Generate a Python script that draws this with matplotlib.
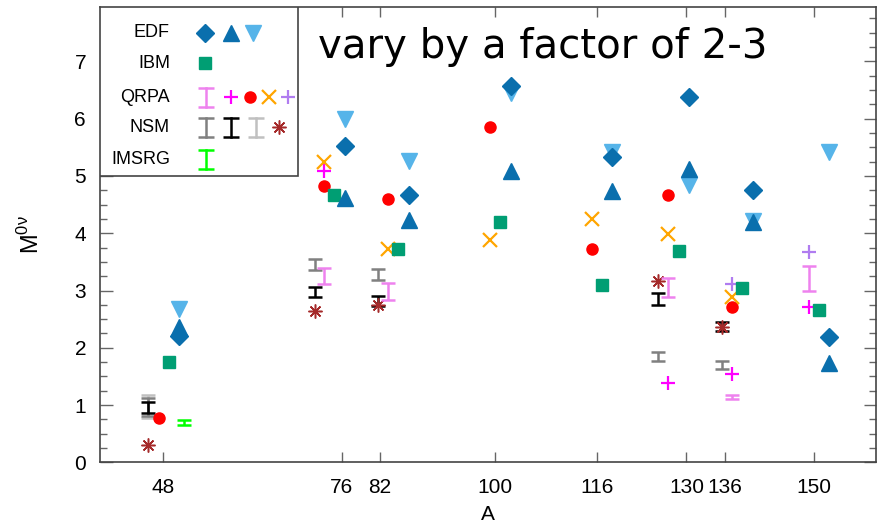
import numpy as np
import matplotlib
matplotlib.use("Agg")
import matplotlib.pyplot as plt
from matplotlib.patches import Rectangle

plt.rcParams['font.family'] = ['Liberation Sans', 'DejaVu Sans']

# x positions (in A units) of the method columns
edf_A = [50.5, 76.48, 86.51, 102.45, 118.34, 130.4, 140.4, 152.4]
edf_diamond = [2.21, 5.53, 4.66, 6.57, 5.33, 6.38, 4.76, 2.19]
edf_up = [2.36, 4.61, 4.23, 5.09, 4.73, 5.13, 4.20, 1.74]
edf_down = [2.67, 5.99, 5.26, 6.44, 5.42, 4.84, 4.22, 5.41]

ibm_A = [48.89, 74.8, 84.83, 100.77, 116.77, 128.8, 138.75, 150.8]
ibm = [1.75, 4.66, 3.72, 4.20, 3.09, 3.69, 3.04, 2.66]

qrpa_bar_A = [73.24, 83.17, 127.15, 137.2, 149.2]
qrpa_bar = [3.25, 2.98, 3.05, 1.14, 3.21]
qrpa_bar_err = [0.145, 0.145, 0.165, 0.04, 0.21]
qrpa_plus_A = [73.24, 127.15, 137.2, 149.2]
qrpa_plus = [5.08, 1.38, 1.55, 2.71]
qrpa_dot_A = [47.3, 73.24, 83.17, 99.2, 115.2, 127.15, 137.2]
qrpa_dot = [0.77, 4.83, 4.60, 5.85, 3.73, 4.66, 2.71]
qrpa_x_A = [73.24, 83.17, 99.2, 115.2, 127.15, 137.2]
qrpa_x = [5.25, 3.72, 3.89, 4.25, 3.99, 2.89]
qrpa_plus2_A = [137.2, 149.2]
qrpa_plus2 = [3.11, 3.68]

nsm_A = [45.65, 71.78, 81.66, 125.6, 135.6]
nsm_gray = [0.97, 3.45, 3.28, 1.85, 1.70]
nsm_gray_err = [0.155, 0.10, 0.10, 0.075, 0.07]
nsm_black = [0.96, 2.97, 2.81, 2.85, 2.37]
nsm_black_err = [0.10, 0.087, 0.087, 0.107, 0.08]
nsm_light_A = [45.65]
nsm_light = [0.97]
nsm_light_err = [0.20]
nsm_star = [0.30, 2.65, 2.75, 3.16, 2.37]

imsrg_A = [51.29]
imsrg = [0.70]
imsrg_err = [0.045]

xticks = [48, 76, 82, 100, 116, 130, 136, 150]

c_blue = '#0a6fad'
c_lblue = '#56b4e9'
c_green = '#009e73'
c_pink = '#ee82ee'
c_mag = '#ff00ff'
c_red = '#ff0000'
c_orange = '#ffa500'
c_purple = '#b07cf0'
c_gray = '#808080'
c_lgray = '#c0c0c0'
c_brown = '#a52a2a'
c_lime = '#00ff00'
star = (8, 2, 0)

fig = plt.figure(figsize=(8.84, 5.28), dpi=100)
ax = fig.add_axes([0.1131, 0.1244, 0.8779, 0.8623])

def bars(A, y, err, color):
    ax.errorbar(A, y, yerr=err, fmt='none', ecolor=color, elinewidth=1.8,
                capsize=4.7, capthick=1.8)

# NSM
bars(nsm_light_A, nsm_light, nsm_light_err, c_lgray)
bars(nsm_A, nsm_gray, nsm_gray_err, c_gray)
bars(nsm_A, nsm_black, nsm_black_err, 'black')
ax.plot(nsm_A, nsm_star, ls='none', marker=star, ms=10, mew=1.1, color=c_brown)
# IMSRG
bars(imsrg_A, imsrg, imsrg_err, c_lime)
# QRPA
bars(qrpa_bar_A, qrpa_bar, qrpa_bar_err, c_pink)
ax.plot(qrpa_plus_A, qrpa_plus, ls='none', marker='+', ms=10, mew=1.6, color=c_mag)
ax.plot(qrpa_dot_A, qrpa_dot, ls='none', marker='o', ms=8, color=c_red)
ax.plot(qrpa_x_A, qrpa_x, ls='none', marker='x', ms=9.5, mew=1.6, color=c_orange)
ax.plot(qrpa_plus2_A, qrpa_plus2, ls='none', marker='+', ms=10, mew=1.6, color=c_purple)
# IBM
ax.plot(ibm_A, ibm, ls='none', marker='s', ms=9, color=c_green)
# EDF
ax.plot(edf_A, edf_down, ls='none', marker='v', ms=11, color=c_lblue)
ax.plot(edf_A, edf_up, ls='none', marker='^', ms=11, color=c_blue)
ax.plot(edf_A, edf_diamond, ls='none', marker='D', ms=9, color=c_blue)

ax.set_xlim(38.1, 159.7)
ax.set_ylim(0, 7.95)
ax.set_xticks(xticks)
ax.set_yticks(range(8))
ax.set_yticks(np.arange(0, 7.95, 0.25), minor=True)
ax.tick_params(axis='both', which='both', direction='in', top=True, right=True,
               color='#666666', labelsize=15)
ax.tick_params(axis='y', which='major', length=9, width=1.0, pad=10)
ax.tick_params(axis='y', which='minor', length=5, width=1.0)
ax.tick_params(axis='x', which='major', length=7, width=1.0, pad=11)
for s in ax.spines.values():
    s.set_color('#444444')
    s.set_linewidth(1.2)

ax.set_xlabel('A', fontsize=15, labelpad=6)
ax.set_ylabel('M$^{\\mathregular{0ν}}$', fontsize=17, labelpad=22)

ax.text(0.281, 0.888, 'vary by a factor of 2-3', transform=ax.transAxes,
        fontsize=29, va='baseline', ha='left', family=['DejaVu Sans'])

# hand-made key in the upper left corner
ax.add_patch(Rectangle((0, 0.629), 0.255, 0.371, transform=ax.transAxes,
                       facecolor='white', edgecolor='#444444', lw=1.2, zorder=5))
rows = [0.943, 0.877, 0.802, 0.736, 0.666]
names = ['EDF', 'IBM', 'QRPA', 'NSM', 'IMSRG']
for r, n in zip(rows, names):
    ax.text(0.0902, r, n, transform=ax.transAxes, ha='right', va='center',
            fontsize=13, zorder=6)

def key_mark(x, y, **kw):
    ax.plot([x], [y], ls='none', transform=ax.transAxes, clip_on=False, zorder=6, **kw)

def key_bar(x, y, color):
    h = 0.021
    ax.plot([x, x], [y - h, y + h], color=color, lw=1.8, transform=ax.transAxes,
            zorder=6)
    ax.plot([x, x], [y - h, y + h], ls='none', marker='_', ms=11, mew=1.8,
            color=color, transform=ax.transAxes, zorder=6)

key_mark(0.1353, rows[0], marker='D', ms=9, color=c_blue)
key_mark(0.1688, rows[0], marker='^', ms=11, color=c_blue)
key_mark(0.1972, rows[0], marker='v', ms=11, color=c_lblue)
key_mark(0.1353, rows[1], marker='s', ms=9, color=c_green)
key_bar(0.1366, rows[2], c_pink)
key_mark(0.1688, rows[2], marker='+', ms=10, mew=1.6, color=c_mag)
key_mark(0.193, rows[2], marker='o', ms=8, color=c_red)
key_mark(0.2178, rows[2], marker='x', ms=9.5, mew=1.6, color=c_orange)
key_mark(0.2423, rows[2], marker='+', ms=10, mew=1.6, color=c_purple)
key_bar(0.1366, rows[3], c_gray)
key_bar(0.1688, rows[3], 'black')
key_bar(0.2010, rows[3], c_lgray)
key_mark(0.2307, rows[3], marker=star, ms=10, mew=1.1, color=c_brown)
key_bar(0.1366, rows[4], c_lime)

fig.savefig('out.png', dpi=100)
